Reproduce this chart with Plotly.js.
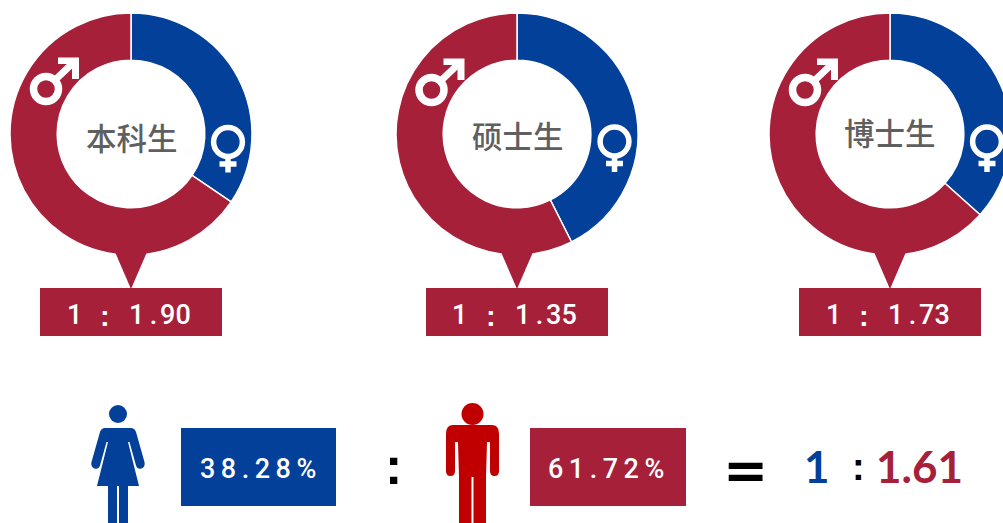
<!DOCTYPE html>
<html><head><meta charset="utf-8">
<script src="https://cdn.plot.ly/plotly-3.0.1.min.js"></script>
<style>html,body{margin:0;padding:0;background:#fff;overflow:hidden;width:1003px;height:523px}#c{width:1100px;height:523px}</style>
</head><body><div id="c"></div>
<script>
const categories = ['本科生','硕士生','博士生'];
const female = [1, 1, 1];
const male = [1.90, 1.35, 1.73];
const ratioLeft = '1';
const ratioRight = ['1.90','1.35','1.73'];
const sexLabels = ['女','男'];
const femaleTotal = '38.28%';
const maleTotal = '61.72%';
const RED='#A6203A', BLUE='#02409A', DARKRED='#C00000';
const W=1100,H=523,R=121;
const centers=[131,517,890], CY=134;
const labelY=[137,135,132];
const labelX=[132,518,890];
const maleSym=[[46,89],[431.5,90],[805,90]];
const femSym=[[228,142],[614.5,141.5],[987,141.5]];
const px=x=>(x/W).toFixed(5), py=y=>(1-y/H).toFixed(5);
function path(cmds){return cmds.map(c=>{
  const [k,...n]=c; let s=k;
  for(let i=0;i<n.length;i+=2){s+=(i?',':'')+px(n[i])+','+py(n[i+1]);}
  return s+' ';}).join('')+'';}
const P=(cmds,fill,extra)=>Object.assign({type:'path',xref:'paper',yref:'paper',path:path(cmds),fillcolor:fill,line:{width:0},layer:'above'},extra||{});
const RECT=(x0,y0,x1,y1,fill)=>({type:'rect',xref:'paper',yref:'paper',x0:+px(x0),x1:+px(x1),y0:+py(y0),y1:+py(y1),fillcolor:fill,line:{width:0},layer:'above'});
const CIRC=(cx,cy,r,fill,line)=>({type:'circle',xref:'paper',yref:'paper',x0:+px(cx-r),x1:+px(cx+r),y0:+py(cy+r),y1:+py(cy-r),fillcolor:fill,line:line||{width:0},layer:'above'});
const LINE=(x0,y0,x1,y1,w,c)=>({type:'line',xref:'paper',yref:'paper',x0:+px(x0),x1:+px(x1),y0:+py(y0),y1:+py(y1),line:{width:w,color:c||'#fff'},layer:'above'});

const data=categories.map((c,i)=>({
  type:'pie',values:[female[i],male[i]],labels:sexLabels,hole:0.61,sort:false,direction:'clockwise',rotation:0,
  textinfo:'none',hoverinfo:'none',showlegend:false,
  marker:{colors:[BLUE,RED],line:{color:'#fff',width:1.5}},
  domain:{x:[(centers[i]-R)/W,(centers[i]+R)/W],y:[1-(CY+R)/H,1-(CY-R)/H]}
}));

const shapes=[], annotations=[];
const T=(text,x,y,size,color,family,weight)=>annotations.push({xref:'paper',yref:'paper',x:x/W,y:1-y/H,xanchor:'center',yanchor:'middle',showarrow:false,
  text,font:{size,color,family,weight:weight||400}});
const spaced=s=>s.split('').join('\u2009');

centers.forEach((cx,i)=>{
  shapes.push(P([['M',cx-16,252],['L',cx,289],['L',cx+16,252],['Z']],RED));
  shapes.push(RECT(cx-91,288,cx+91,336,RED));
  T(ratioLeft,cx-57,315,27,'#fff','Roboto',500);
  T(':',cx-26,316,29,'#fff','Liberation Sans',700);
  T(ratioRight[i].replace('.','\u2009.\u200a'),cx+29,315,27,'#fff','Roboto',500);
  T(categories[i],labelX[i],labelY[i],30.5,'#5f5f5f','Noto Sans CJK SC',500);
  const [mx,my]=maleSym[i];
  shapes.push(CIRC(mx,my,12.5,'rgba(0,0,0,0)',{width:7.5,color:'#fff'}));
  shapes.push(LINE(mx+8,my-8,mx+29,my-28,7));
  shapes.push(P([['M',mx+12,my-31.5],['L',mx+33,my-31.5],['L',mx+33,my-10],['L',mx+26,my-10],['L',mx+26,my-25],['L',mx+12,my-25],['Z']],'#fff'));
  const [fx,fy]=femSym[i];
  shapes.push(CIRC(fx,fy,14.4,'rgba(0,0,0,0)',{width:5.5,color:'#fff'}));
  shapes.push(LINE(fx,fy+16,fx,fy+30.5,5.5));
  shapes.push(LINE(fx-8.5,fy+22,fx+8.5,fy+22,5.5));
});

shapes.push(CIRC(118,414,9,BLUE));
shapes.push(P([['M',105,428],['L',131,428],['Q',134.5,428,136,432],['L',144.5,462],['Q',145.5,467,141.5,468.5],['Q',137.5,469.5,136,465.5],['L',129.5,442],
 ['L',128,442],['L',139,486],['L',128,486],['L',128,523],['L',119,523],['L',119,486],['L',117,486],['L',117,523],['L',108,523],['L',108,486],['L',97,486],['L',108,442],
 ['L',106.5,442],['L',100,465.5],['Q',98.5,469.5,94.5,468.5],['Q',90.5,467,91.5,462],['L',100,432],['Q',101.5,428,105,428],['Z']],BLUE));
shapes.push(RECT(181,428,336,506,BLUE));
T(spaced(femaleTotal),258,469,27,'#fff','Roboto',500);
T(':',393,466,52,'#000','Liberation Sans',700);
shapes.push(CIRC(472.5,414,11,DARKRED));
shapes.push(P([['M',453,425],['L',492,425],['Q',499,425,499,434],['L',499,471],['Q',499,476,494.5,476],['Q',490,476,490,471],['L',490,442],['L',487,442],
 ['L',486,477],['L',486,523],['L',473.5,523],['L',473.5,477],['L',471.5,477],['L',471.5,523],['L',459,523],['L',459,477],['L',458,442],['L',455,442],['L',455,471],['Q',455,476,450.5,476],['Q',446,476,446,471],['L',446,434],['Q',446,425,453,425],['Z']],DARKRED));
shapes.push(RECT(530,428,686,506,RED));
T(spaced(maleTotal),606,469,27,'#fff','Roboto',500);
T('=',745,470,54,'#000','DejaVu Sans',700);
T('1',817,466,44,BLUE,'Lato',700);
T(':',858,467,38,'#000','Liberation Sans',700);
T('1.61',920,466,44,RED,'Lato',700);

Plotly.newPlot('c',data,{width:W,height:H,margin:{l:0,r:0,t:0,b:0},paper_bgcolor:'#fff',plot_bgcolor:'#fff',showlegend:false,shapes,annotations},{displayModeBar:false,staticPlot:true});
</script></body></html>
